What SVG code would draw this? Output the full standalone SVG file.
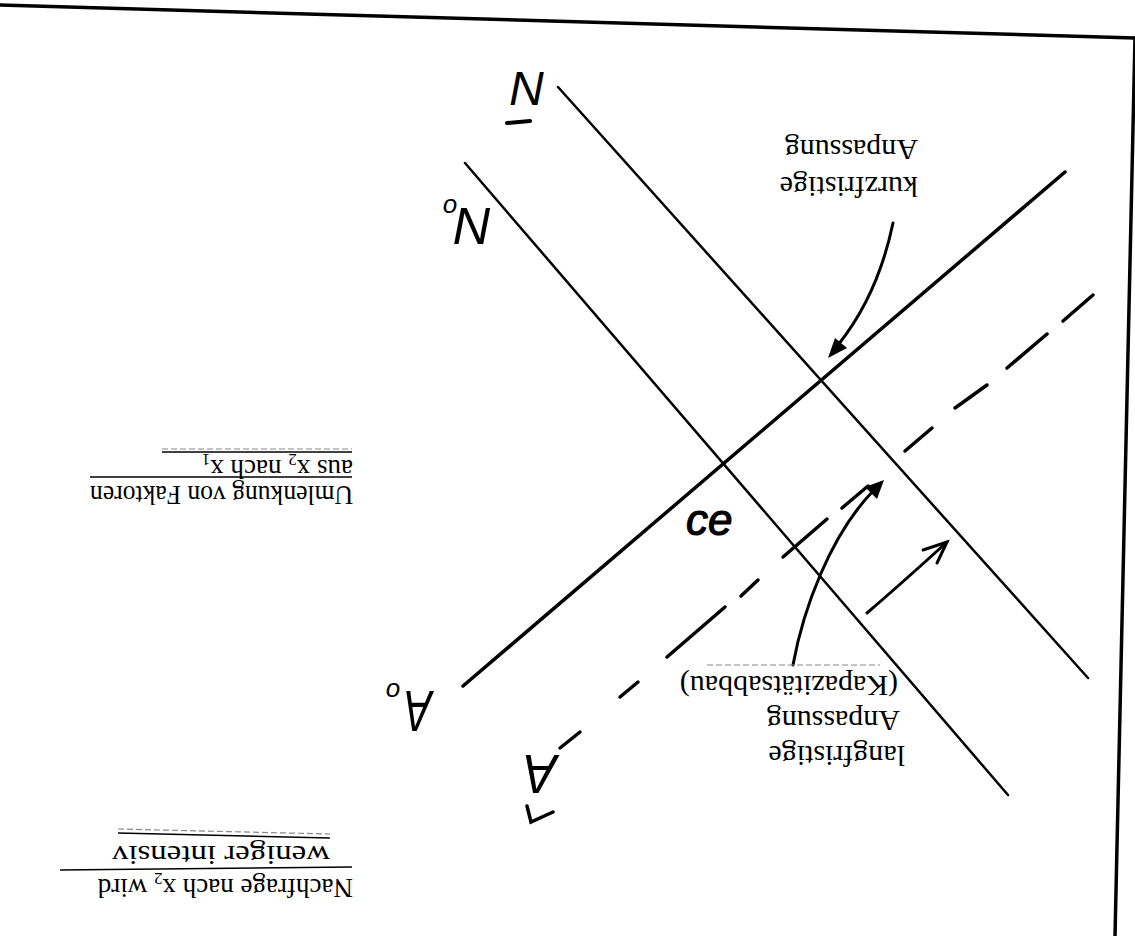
<svg xmlns="http://www.w3.org/2000/svg" width="1135" height="936" viewBox="0 0 1135 936">
<style>
.ln{stroke:#000;fill:none;stroke-linecap:round}
.pr{font-family:"Liberation Serif",serif;font-size:30px;fill:#000}
.pl{font-family:"Liberation Serif",serif;font-size:27px;fill:#000}
.hw{font-family:"Liberation Sans",sans-serif;font-style:italic;fill:#000}
.rule{stroke:#000;stroke-width:1.5;fill:none}
.rg{stroke:#888;stroke-width:1.2;fill:none;stroke-dasharray:6 3}
</style>
<rect width="1135" height="936" fill="#fff"/>
<g id="frame">
<path class="ln" d="M0,5 L1135,38" stroke-width="3.5"/>
<path class="ln" d="M1135,38 L1115,936" stroke-width="3.5"/>
</g>
<g id="curves">
<path id="N-line" class="ln" d="M558,87 L1088,678" stroke-width="2.5"/>
<path id="N0-line" class="ln" d="M465,163 L1008,795" stroke-width="2.5"/>
<path id="A0-line" class="ln" d="M463,686 L1065,172" stroke-width="3.5"/>
<g id="A-dashed" class="ln" stroke-width="3.5">
<path d="M1093,295 L1063,321"/>
<path d="M1047,334 L1007,368"/>
<path d="M987,385 L955,408"/>
<path d="M932,428 L905,451"/>
<path d="M868,486 L842,508"/>
<path d="M827,519 L783,557"/>
<path d="M758,580 L741,596"/>
<path d="M725,607 L667,657"/>
<path d="M638,682 L620,697"/>
<path d="M580,732 L560,748"/>
</g>
</g>
<g id="connectors">
<path class="ln" d="M893,223 Q878,295 838,345" stroke-width="3"/>
<polygon points="828,358 847,348 835,338" fill="#000"/>
<path class="ln" d="M793,665 C803,610 830,535 874,490" stroke-width="3"/>
<polygon points="884,480 877,499 865,487" fill="#000"/>
<path class="ln" d="M867,613 Q902,583 947,542" stroke-width="3"/>
<path class="ln" d="M923,550 L947,542 L937,563" stroke-width="3"/>
</g>
<g id="label-N">
<text class="hw" font-size="48" x="528" y="106" text-anchor="middle" transform="rotate(180 528 89)">N</text>
<path class="ln" d="M507,123 L530,121" stroke-width="4"/>
</g>
<g id="label-N0">
<text class="hw" font-size="52" x="473" y="244" text-anchor="middle" transform="rotate(180 473 226)">N</text>
<text class="hw" font-size="26" x="450" y="213" text-anchor="middle" transform="rotate(180 450 206)">o</text>
</g>
<g id="label-A0">
<text class="hw" font-size="58" x="418" y="733" text-anchor="middle" textLength="28" lengthAdjust="spacingAndGlyphs" transform="rotate(180 418 712)">A</text>
<text class="hw" font-size="26" x="393" y="697" text-anchor="middle" transform="rotate(180 393 690)">o</text>
</g>
<g id="label-A">
<text class="hw" font-size="56" x="540" y="795" text-anchor="middle" textLength="34" lengthAdjust="spacingAndGlyphs" transform="rotate(180 540 775)">A</text>
<path class="ln" d="M527,806 L531,822 L553,812" stroke-width="3.5"/>
</g>
<g id="label-GE">
<text class="hw" font-size="44" x="686" y="535" stroke="#000" stroke-width="1.2">ce</text>
</g>
<g id="text-kurz">
<text class="pr" x="918" y="177" transform="rotate(180 918 177)">kurzfristige</text>
<text class="pr" x="918" y="140" transform="rotate(180 918 140)">Anpassung</text>
</g>
<g id="text-lang">
<text class="pr" x="905" y="746" transform="rotate(180 905 746)">langfristige</text>
<text class="pr" x="900" y="711" transform="rotate(180 900 711)">Anpassung</text>
<text class="pr" x="898" y="676" transform="rotate(180 898 676)">(Kapazitätsabbau)</text>
<path class="rg" d="M707,665 L880,665"/>
</g>
<g id="text-umlenkung">
<path class="rg" d="M162,449 L352,449"/>
<path class="rule" d="M162,452 L352,452"/>
<text class="pl" x="353" y="460" transform="rotate(180 353 460)">aus x<tspan font-size="17" dy="6">2</tspan><tspan dy="-6"> nach x</tspan><tspan font-size="17" dy="6">1</tspan></text>
<path class="rule" d="M90,477 L352,477"/>
<text class="pl" x="353" y="486" textLength="263" lengthAdjust="spacingAndGlyphs" transform="rotate(180 353 486)">Umlenkung von Faktoren</text>
</g>
<g id="text-nachfrage">
<path class="rg" d="M118,829 L330,834"/>
<path class="rule" d="M118,833 L330,838"/>
<text class="pl" x="330" y="846" textLength="218" lengthAdjust="spacingAndGlyphs" transform="rotate(180 330 846)">weniger intensiv</text>
<path class="rule" d="M60,870 L352,867"/>
<text class="pl" x="353" y="879" transform="rotate(180 353 879)">Nachfrage nach x<tspan font-size="17" dy="6">2</tspan><tspan dy="-6"> wird</tspan></text>
</g>
</svg>
